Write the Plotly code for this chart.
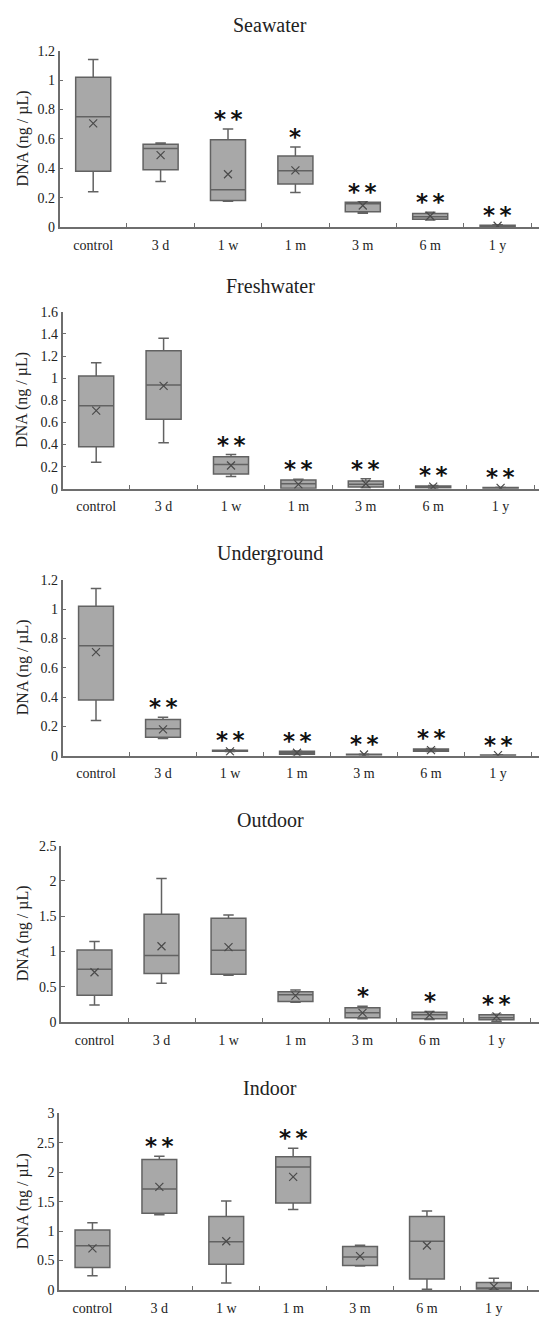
import plotly.graph_objects as go

# Sampling times after deposition
categories = ["control", "3 d", "1 w", "1 m", "3 m", "6 m", "1 y"]

panel_titles = ["Seawater", "Freshwater", "Underground", "Outdoor", "Indoor"]

# Box statistics per environment (ng / µL)
seawater_low = [0.24, 0.31, 0.175, 0.235, 0.094, 0.048, 0.002]
seawater_q1 = [0.38, 0.39, 0.18, 0.292, 0.104, 0.052, 0.003]
seawater_med = [0.75, 0.534, 0.254, 0.383, 0.159, 0.070, 0.007]
seawater_q3 = [1.02, 0.563, 0.594, 0.484, 0.168, 0.092, 0.012]
seawater_high = [1.14, 0.572, 0.668, 0.545, 0.171, 0.101, 0.015]
seawater_mean = [0.706, 0.489, 0.359, 0.385, 0.146, 0.075, 0.008]
seawater_sig = ["", "", "**", "*", "**", "**", "**"]

fresh_low = [0.24, 0.417, 0.110, 0.003, 0.010, 0.005, 0.002]
fresh_q1 = [0.38, 0.628, 0.134, 0.005, 0.015, 0.010, 0.004]
fresh_med = [0.75, 0.938, 0.220, 0.045, 0.040, 0.020, 0.008]
fresh_q3 = [1.02, 1.248, 0.289, 0.080, 0.071, 0.025, 0.011]
fresh_high = [1.14, 1.361, 0.309, 0.086, 0.090, 0.030, 0.013]
fresh_mean = [0.706, 0.930, 0.210, 0.040, 0.045, 0.020, 0.008]
fresh_sig = ["", "", "**", "**", "**", "**", "**"]

under_low = [0.24, 0.117, 0.028, 0.008, 0.003, 0.028, 0.001]
under_q1 = [0.38, 0.126, 0.030, 0.010, 0.005, 0.030, 0.002]
under_med = [0.75, 0.184, 0.033, 0.020, 0.008, 0.038, 0.004]
under_q3 = [1.02, 0.247, 0.038, 0.030, 0.010, 0.045, 0.005]
under_high = [1.14, 0.263, 0.040, 0.032, 0.012, 0.050, 0.006]
under_mean = [0.706, 0.180, 0.030, 0.020, 0.008, 0.038, 0.004]
under_sig = ["", "**", "**", "**", "**", "**", "**"]

out_low = [0.24, 0.551, 0.664, 0.280, 0.047, 0.037, 0.009]
out_q1 = [0.38, 0.687, 0.678, 0.290, 0.061, 0.047, 0.033]
out_med = [0.75, 0.944, 1.019, 0.388, 0.131, 0.103, 0.060]
out_q3 = [1.02, 1.528, 1.472, 0.430, 0.201, 0.140, 0.103]
out_high = [1.14, 2.033, 1.519, 0.453, 0.224, 0.150, 0.112]
out_mean = [0.706, 1.075, 1.061, 0.374, 0.130, 0.100, 0.080]
out_sig = ["", "", "", "", "*", "*", "**"]

in_low = [0.24, 1.276, 0.118, 1.366, 0.409, 0.011, 0.006]
in_q1 = [0.38, 1.304, 0.437, 1.478, 0.414, 0.185, 0.017]
in_med = [0.75, 1.713, 0.817, 2.088, 0.560, 0.828, 0.034]
in_q3 = [1.02, 2.216, 1.248, 2.261, 0.739, 1.248, 0.129]
in_high = [1.14, 2.272, 1.511, 2.407, 0.761, 1.343, 0.201]
in_mean = [0.706, 1.752, 0.828, 1.920, 0.576, 0.756, 0.060]
in_sig = ["", "**", "", "**", "", "", ""]

y_max = [1.2, 1.6, 1.2, 2.5, 3.0]
y_step = [0.2, 0.2, 0.2, 0.5, 0.5]

panels = [
    (seawater_low, seawater_q1, seawater_med, seawater_q3, seawater_high, seawater_mean, seawater_sig),
    (fresh_low, fresh_q1, fresh_med, fresh_q3, fresh_high, fresh_mean, fresh_sig),
    (under_low, under_q1, under_med, under_q3, under_high, under_mean, under_sig),
    (out_low, out_q1, out_med, out_q3, out_high, out_mean, out_sig),
    (in_low, in_q1, in_med, in_q3, in_high, in_mean, in_sig),
]

# Page geometry (pixels): title centre, plot top, plot bottom, y-axis x, category pitch
W, H = 539, 1322
geom = [
    (18.0, 44.3, 222.5, 59.5, 67.4),
    (281.7, 308.3, 487.3, 62.5, 67.4),
    (552.7, 579.3, 757.3, 62.5, 67.0),
    (822.7, 848.3, 1026.7, 61.0, 67.0),
    (1093.3, 1119.0, 1297.7, 59.0, 66.9),
]

FONT = "Liberation Serif, Times New Roman, serif"
BOX_FILL = "#a8a8a8"
BOX_LINE = "#626262"
AXIS = "#6e6e6e"
TEXT = "#222222"

fig = go.Figure()
annotations = []
layout_axes = {}

for i, (stats, g) in enumerate(zip(panels, geom)):
    low, q1, med, q3, high, mean, sig = stats
    title_y, top, bottom, left, pitch = g
    n = i + 1
    xa = "x" if n == 1 else f"x{n}"
    ya = "y" if n == 1 else f"y{n}"

    fig.add_trace(go.Box(
        x=categories, q1=q1, median=med, q3=q3,
        lowerfence=low, upperfence=high,
        width=0.52, whiskerwidth=0.3,
        fillcolor=BOX_FILL, line=dict(color=BOX_LINE, width=1.5),
        boxpoints=False, hoverinfo="skip", showlegend=False,
        xaxis=xa, yaxis=ya,
    ))
    fig.add_trace(go.Scatter(
        x=categories, y=mean, mode="markers",
        marker=dict(symbol="x-thin", size=8, line=dict(color="#4a4a4a", width=1.2)),
        hoverinfo="skip", showlegend=False, xaxis=xa, yaxis=ya,
    ))

    right_val = (W - left) / pitch - 0.5
    xkey = "xaxis" if n == 1 else f"xaxis{n}"
    ykey = "yaxis" if n == 1 else f"yaxis{n}"
    layout_axes[xkey] = dict(
        domain=[left / W, 1.0], anchor=ya, type="category",
        range=[-0.5, right_val], showgrid=False, zeroline=False,
        showline=True, linecolor=AXIS, linewidth=1.5,
        tickson="boundaries", ticks="inside", ticklen=4, tickcolor=AXIS, tickwidth=1,
        ticklabelstandoff=4,
        tickfont=dict(family=FONT, size=14, color=TEXT), fixedrange=True,
    )
    layout_axes[ykey] = dict(
        domain=[1 - bottom / H, 1 - top / H], anchor=xa,
        range=[0, y_max[i]], dtick=y_step[i], tick0=0,
        showgrid=False, zeroline=False,
        showline=True, linecolor=AXIS, linewidth=1.5,
        ticks="inside", ticklen=4, tickcolor=AXIS, tickwidth=1,
        tickfont=dict(family=FONT, size=14, color=TEXT), fixedrange=True,
    )

    # Panel title
    annotations.append(dict(
        text=panel_titles[i], xref="paper", yref="paper",
        x=270 / W, y=1 - title_y / H,
        xanchor="center", yanchor="middle", showarrow=False,
        font=dict(family=FONT, size=20, color=TEXT),
    ))
    # Y-axis title
    annotations.append(dict(
        text="DNA (ng / µL)", xref="paper", yref="paper",
        x=22.5 / W, y=1 - (top + bottom) / 2 / H, textangle=-90,
        xanchor="center", yanchor="middle", showarrow=False,
        font=dict(family=FONT, size=16, color=TEXT),
    ))
    # Significance marks above the upper whisker
    for cat, hi, s in zip(categories, high, sig):
        if s:
            annotations.append(dict(
                text="\u2009".join(s), xref=xa, yref=ya, x=cat, y=hi,
                xanchor="center", yanchor="middle", yshift=10,
                showarrow=False,
                font=dict(family="DejaVu Sans", size=23, color="#111111", weight="bold"),
            ))

fig.update_layout(
    width=W, height=H,
    margin=dict(l=0, r=0, t=0, b=0),
    paper_bgcolor="white", plot_bgcolor="white",
    annotations=annotations,
    **layout_axes,
)

fig.write_html("out.html")
